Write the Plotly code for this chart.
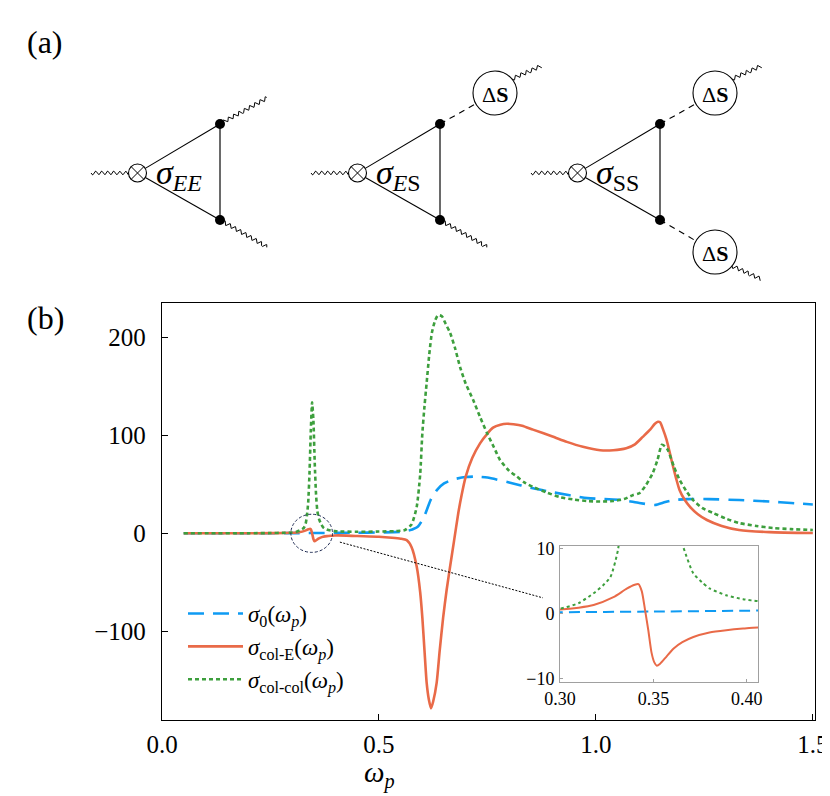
import numpy as np
import plotly.graph_objects as go

# ---------------- data ----------------
omega_s0 = [0.05, 0.1, 0.2, 0.3, 0.35, 0.406, 0.45, 0.5, 0.55, 0.57, 0.59, 0.605, 0.62, 0.635, 0.65,
            0.67, 0.7, 0.72, 0.75, 0.8, 0.855, 0.9, 0.98, 1.02, 1.06, 1.1, 1.136, 1.16, 1.18, 1.21,
            1.26, 1.33, 1.4, 1.45, 1.5]
sigma_0 = [0, 0, 0.05, 0.2, 0.3, 0.45, 0.6, 0.9, 1.5, 3, 7, 18, 35, 45, 51,
           55, 57.5, 58, 57, 52, 46, 42, 36, 35, 34, 31, 29, 32, 34, 35,
           35, 34, 32.5, 31, 29.5]

omega_ce = [0.05, 0.1, 0.2, 0.25, 0.28, 0.30, 0.31, 0.318, 0.3286, 0.3357, 0.340, 0.342, 0.3438,
            0.3455, 0.3473, 0.349, 0.3505, 0.3518, 0.3536, 0.357, 0.3607, 0.3655, 0.3714, 0.38,
            0.389, 0.398, 0.406, 0.45, 0.5, 0.53, 0.55, 0.564, 0.575, 0.587, 0.595, 0.60, 0.605,
            0.61, 0.615, 0.62, 0.625, 0.633, 0.64, 0.648, 0.656, 0.664, 0.673, 0.683, 0.69, 0.70,
            0.715, 0.733, 0.75, 0.763, 0.78, 0.795, 0.81, 0.83, 0.855, 0.9, 0.933, 0.97, 1.01,
            1.04, 1.07, 1.09, 1.108, 1.125, 1.136, 1.143, 1.148, 1.155, 1.163, 1.17, 1.178, 1.185,
            1.193, 1.205, 1.217, 1.235, 1.256, 1.29, 1.33, 1.4, 1.5]
sigma_colE = [0, 0, 0.05, 0.15, 0.35, 0.6, 0.9, 1.3, 2.5, 3.8, 4.4, 4.5, 3.4,
              0.6, -2.6, -6.0, -7.5, -8.0, -7.7, -6.6, -5.4, -4.4, -3.6, -2.9,
              -2.55, -2.3, -2.15, -2.8, -3.5, -4.5, -5.5, -7, -14, -34, -60, -86, -120,
              -153, -170, -179, -172, -153, -120, -86, -58, -34, -8, 21, 38, 58,
              77, 92, 102, 108, 111, 112, 111.5, 110, 106, 99, 93.5, 88.5, 85,
              85, 87, 91, 98.6, 106, 112, 114, 113.5, 106, 95.5, 83, 68, 56,
              44, 34, 27, 19.5, 13.6, 7.5, 3.4, 1.2, 0.3]

omega_cc = [0.05, 0.1, 0.2, 0.25, 0.28, 0.30, 0.31, 0.318, 0.323, 0.327, 0.331, 0.334, 0.337, 0.34,
            0.343, 0.346, 0.349, 0.352, 0.355, 0.358, 0.362, 0.366, 0.3714, 0.376, 0.38, 0.389,
            0.398, 0.406, 0.45, 0.5, 0.54, 0.56, 0.575, 0.587, 0.595, 0.60, 0.605, 0.61, 0.616,
            0.622, 0.629, 0.636, 0.645, 0.654, 0.664, 0.675, 0.687, 0.7, 0.717, 0.733, 0.749,
            0.765, 0.779, 0.8, 0.818, 0.835, 0.855, 0.885, 0.917, 0.95, 0.979, 1.01, 1.04, 1.065,
            1.085, 1.1, 1.115, 1.131, 1.142, 1.152, 1.159, 1.166, 1.18, 1.193, 1.21, 1.224, 1.245,
            1.27, 1.3, 1.33, 1.37, 1.408, 1.45, 1.5]
sigma_colcol = [0, 0, 0.1, 0.25, 0.5, 0.75, 1.6, 3.1, 4.3, 5.6, 9.7, 18, 32, 62,
                105, 134, 115, 72, 40, 23, 14.5, 10.2, 6.15, 4.8, 3.85, 2.8,
                2.2, 1.9, 1.6, 1.8, 2.3, 3.4, 9, 27, 60, 102, 130, 154, 183,
                205, 217, 223, 222, 214, 205, 190, 170, 153, 136.5, 119, 102.6,
                88, 75, 64, 58, 52, 47.4, 42, 37, 34.5, 33, 32.5, 33, 35,
                39, 41, 49, 61.6, 75, 90.5, 89, 85, 68, 54.6, 42, 34, 26,
                20.8, 15, 10.5, 7.5, 5.4, 4.3, 3.4]

main_xticks = [0.0, 0.5, 1.0, 1.5]
main_xlabels = ["0.0", "0.5", "1.0", "1.5"]
main_yticks = [-100, 0, 100, 200]
inset_xticks = [0.30, 0.35, 0.40]
inset_xlabels = ["0.30", "0.35", "0.40"]
inset_yticks = [-10, 0, 10]

names = ["<i>σ</i><sub>0</sub>(<i>ω</i><sub><i>p</i></sub>)",
         "<i>σ</i><sub>col-E</sub>(<i>ω</i><sub><i>p</i></sub>)",
         "<i>σ</i><sub>col-col</sub>(<i>ω</i><sub><i>p</i></sub>)"]

# ---------------- geometry ----------------
# the page body adds an 8px offset; figure is sized so it fits the 830x796 window
OFF = 8
W, H = 830 - OFF, 796 - OFF

def px(rx):
    return (rx - OFF) / W

def py(ry):
    return 1 - (ry - OFF) / H

FONT = "Liberation Serif"
C_BLUE = "#0E9BF3"
C_ORANGE = "#E96A48"
C_GREEN = "#3D9F3D"

fig = go.Figure()

series = [
    (omega_s0, sigma_0, C_BLUE, "16px,9px", "11px,6px"),
    (omega_ce, sigma_colE, C_ORANGE, "solid", "solid"),
    (omega_cc, sigma_colcol, C_GREEN, "4px,3px", "3px,3px"),
]
for (xs, ys, col, dash, _), nm in zip(series, names):
    fig.add_trace(go.Scatter(x=xs, y=ys, mode="lines", name=nm,
                             line=dict(color=col, width=2.6, dash=dash, shape="spline", smoothing=0.6),
                             xaxis="x", yaxis="y"))
for (xs, ys, col, _, dash2) in series:
    fig.add_trace(go.Scatter(x=xs, y=ys, mode="lines", showlegend=False,
                             line=dict(color=col, width=2, dash=dash2, shape="spline", smoothing=0.6),
                             xaxis="x2", yaxis="y2"))

# ---------------- diagrams (a) on pixel-like axis ----------------
def wavy(p0, p1, amp=2.0, lam=6.0):
    p0 = np.array(p0, float); p1 = np.array(p1, float)
    v = p1 - p0
    L = np.hypot(*v)
    t = np.linspace(0, 1, int(L * 3) + 2)
    n = np.array([-v[1], v[0]]) / L
    pts = p0[None, :] + t[:, None] * v[None, :] + (amp * np.sin(2 * np.pi * t * L / lam))[:, None] * n[None, :]
    return pts[:, 0], pts[:, 1]

def line_tr(xs, ys, color="black", width=1.2, dash="solid"):
    fig.add_trace(go.Scatter(x=xs, y=ys, mode="lines", showlegend=False, hoverinfo="skip",
                             line=dict(color=color, width=width, dash=dash), xaxis="x3", yaxis="y3"))

def circle(cx, cy, r, width=1.1):
    fig.add_shape(type="circle", xref="x3", yref="y3", x0=cx - r, x1=cx + r, y0=cy - r, y1=cy + r,
                  line=dict(color="black", width=width), fillcolor="white", layer="above")

diag_labels = ["<i>σ</i><sub><i>EE</i></sub>", "<i>σ</i><sub><i>E</i>S</sub>", "<i>σ</i><sub>SS</sub>"]
for k in range(3):
    ox = 220 * k
    cx, cy, rc = 137.5 + ox, 173.0, 9.0
    tv = (220.0 + ox, 124.0)
    bv = (220.0 + ox, 220.0)
    wx, wy = wavy((91 + ox, cy), (cx - rc, cy))
    line_tr(wx, wy, width=1.0)
    for v in (tv, bv):
        d = np.array(v) - np.array([cx, cy]); d = d / np.hypot(*d)
        line_tr([cx + rc * d[0], v[0]], [cy + rc * d[1], v[1]], width=1.1)
    line_tr([tv[0], bv[0]], [tv[1], bv[1]], color="#6a6a6a", width=2.0)
    ds_top = (k >= 1)
    ds_bot = (k == 2)
    sc = (715.0 - 220 * (2 - k), 93.0)
    sb = (715.0 - 220 * (2 - k), 252.0)
    rs = 22.0
    if ds_top:
        d = np.array(sc) - np.array(tv); d = d / np.hypot(*d)
        line_tr([tv[0], sc[0] - rs * d[0]], [tv[1], sc[1] - rs * d[1]], width=1.1, dash="6px,5px")
        wx, wy = wavy((sc[0] + 17, sc[1] - 14), (sc[0] + 46, sc[1] - 27))
        line_tr(wx, wy, width=1.0)
    else:
        wx, wy = wavy(tv, (tv[0] + 47, tv[1] - 26))
        line_tr(wx, wy, width=1.0)
    if ds_bot:
        d = np.array(sb) - np.array(bv); d = d / np.hypot(*d)
        line_tr([bv[0], sb[0] - rs * d[0]], [bv[1], sb[1] - rs * d[1]], width=1.1, dash="6px,5px")
        wx, wy = wavy((sb[0] + 17, sb[1] + 14), (sb[0] + 46, sb[1] + 27))
        line_tr(wx, wy, width=1.0)
    else:
        wx, wy = wavy(bv, (bv[0] + 47, bv[1] + 27))
        line_tr(wx, wy, width=1.0)
    fig.add_trace(go.Scatter(x=[tv[0], bv[0]], y=[tv[1], bv[1]], mode="markers", showlegend=False,
                             hoverinfo="skip", marker=dict(color="black", size=10),
                             xaxis="x3", yaxis="y3"))
    circle(cx, cy, rc)
    a = rc * 0.7071
    for sgn in (1, -1):
        fig.add_shape(type="line", xref="x3", yref="y3", x0=cx - a, x1=cx + a, y0=cy - sgn * a,
                      y1=cy + sgn * a, line=dict(color="black", width=1.0), layer="above")
    for flag, c in ((ds_top, sc), (ds_bot, sb)):
        if flag:
            circle(c[0], c[1], rs)
            fig.add_annotation(x=c[0], y=c[1] + 1, xref="x3", yref="y3", text="Δ<b>S</b>",
                               showarrow=False, xanchor="center", yanchor="middle",
                               font=dict(family=FONT, size=22, color="black"))
    fig.add_annotation(x=154 + ox, y=175, xref="x3", yref="y3", text=diag_labels[k], showarrow=False,
                       xanchor="left", yanchor="middle", font=dict(family=FONT, size=34, color="black"))

# ---------------- zoom marker ----------------
fig.add_shape(type="circle", xref="x", yref="y", x0=0.297, x1=0.393, y0=-19.5, y1=19.5,
              line=dict(color="#1c2850", width=1, dash="3px,2px"))
fig.add_shape(type="line", xref="x", yref="y", x0=0.41, y0=-9, x1=0.878, y1=-66,
              line=dict(color="black", width=1, dash="2px,1.5px"))

# ---------------- labels ----------------
for txt, (rx, ry) in (("(a)", (45, 42)), ("(b)", (45, 318))):
    fig.add_annotation(x=px(rx), y=py(ry), xref="paper", yref="paper", text=txt, showarrow=False,
                       xanchor="center", yanchor="middle",
                       font=dict(family=FONT, size=32, color="black"))
fig.add_annotation(x=px(379), y=py(795), xref="paper", yref="paper",
                   text="<i>ω</i><sub><i>p</i></sub>", showarrow=False, xanchor="center",
                   yanchor="bottom", font=dict(family=FONT, size=29, color="black"))

axis_common = dict(showgrid=False, zeroline=False, showline=True, mirror=True, linecolor="black",
                   linewidth=1.3, ticks="inside", ticklen=6, tickwidth=1.2, tickcolor="black",
                   tickfont=dict(family=FONT, size=25, color="black"), fixedrange=True,
                   automargin=False)
inset_common = dict(showgrid=False, zeroline=False, showline=True, mirror=True, linecolor="#a0a0a0",
                    linewidth=1, ticks="inside", ticklen=3, tickwidth=1, tickcolor="#a0a0a0",
                    tickfont=dict(family=FONT, size=18, color="black"), fixedrange=True,
                    automargin=False)

fig.update_layout(
    width=W, height=H, margin=dict(l=0, r=0, t=0, b=0, pad=0, autoexpand=False),
    paper_bgcolor="white", plot_bgcolor="white",
    font=dict(family=FONT, color="black"),
    xaxis=dict(domain=[px(162), px(815)], range=[0, 1.505], tickvals=main_xticks,
               ticktext=main_xlabels, ticklabelstandoff=2, anchor="y", **axis_common),
    yaxis=dict(domain=[py(720), py(303)], range=[-190.9, 235.5], tickvals=main_yticks,
               ticklabelstandoff=10, anchor="x", **axis_common),
    xaxis2=dict(domain=[px(560), px(758)], range=[0.30, 0.406], tickvals=inset_xticks,
                ticktext=inset_xlabels, anchor="y2", ticklabelstandoff=0, **inset_common),
    yaxis2=dict(domain=[py(682), py(546)], range=[-10.5, 10.35], tickvals=inset_yticks,
                anchor="x2", ticklabelstandoff=1, **inset_common),
    xaxis3=dict(domain=[0, 1], range=[OFF, 830], visible=False, fixedrange=True, anchor="y3"),
    yaxis3=dict(domain=[py(300), 1], range=[300, OFF], visible=False, fixedrange=True, anchor="x3"),
    legend=dict(x=px(183), y=py(592), xanchor="left", yanchor="top", bgcolor="rgba(0,0,0,0)",
                font=dict(family=FONT, size=23, color="black"), itemwidth=55, tracegroupgap=0),
    showlegend=True,
)

fig.write_html("out.html")
